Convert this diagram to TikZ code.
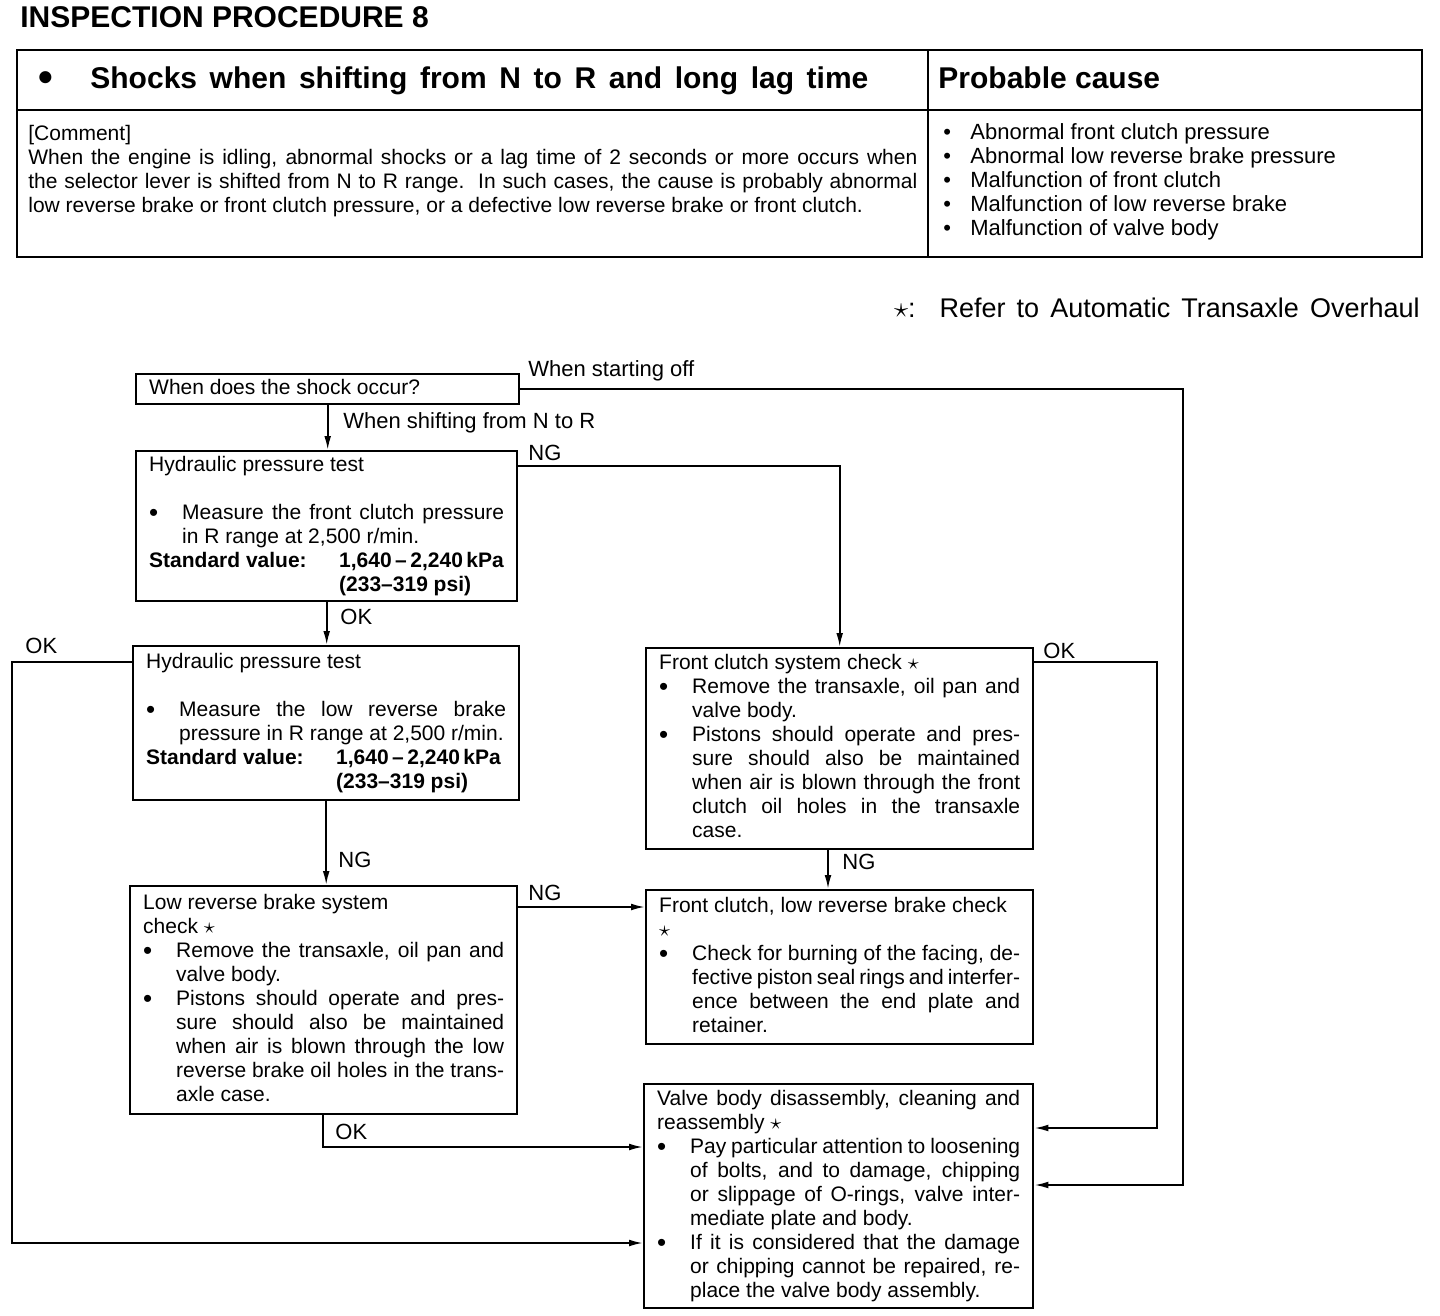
\documentclass[tikz,border=0pt]{standalone}
\usepackage{fontspec}
\setmainfont{Liberation Sans}
\usetikzlibrary{arrows.meta, positioning, calc}
\newcommand{\bodyfont}{\fontsize{10.5}{12}\selectfont\fontdimen4\font=1.8pt\relax}
\newcommand{\dotb}{\raisebox{-1pt}{\fontsize{13}{12}\selectfont\textbullet}}
\newcommand{\bitem}{\par\noindent\hangindent=16.5pt\hangafter=1\makebox[16.5pt][l]{\dotb}}
\newcommand{\stdval}{\par\noindent\makebox[95pt][l]{\bfseries Standard value:}{\bfseries 1,640\,--\,2,240\,kPa}\par\noindent\hspace*{95pt}{\bfseries (233--319 psi)}\strut}
\newcommand{\refstar}{\ensuremath{\star}}
\tolerance=10000
\hyphenpenalty=10000

\begin{document}
\begin{tikzpicture}[x=0.5pt, y=-0.5pt,
  box/.style={draw, line width=1.2pt, anchor=north west, inner xsep=6.5pt, inner ysep=0pt,
    align=justify, font=\bodyfont, execute at begin node=\strut},
  txt/.style={inner sep=0pt, anchor=north west, font=\bodyfont, execute at begin node=\strut},
  lbl/.style={inner sep=0pt, anchor=base west, font=\fontsize{11}{12}\selectfont},
  link/.style={line width=0.9pt, -{Latex[length=7pt,width=3.4pt]}},
  rule/.style={line width=1.2pt}]
  \useasboundingbox (0,0) rectangle (1440,1316);

  % Title
  \node[anchor=base west, inner sep=0pt, font=\fontsize{15}{18}\selectfont\bfseries] (title) at (20,28) {INSPECTION PROCEDURE 8};

  % Summary table
  \draw[rule] (17,50) rectangle (1422,257);
  \draw[rule] (17,110) -- (1422,110);
  \draw[rule] (928,50) -- (928,257);
  \node[anchor=base west, inner sep=0pt, font=\fontsize{15}{18}\selectfont\bfseries] (symptom) at (38,89)
    {\makebox[26pt][l]{\raisebox{-1.5pt}{\fontsize{21}{18}\selectfont\textbullet}}\makebox[389pt][s]{Shocks when shifting from N to R and long lag time}};
  \node[anchor=base west, inner sep=0pt, font=\fontsize{15}{18}\selectfont\bfseries] (causehead) at (938,89) {Probable cause};
  \node[txt, text width=444.5pt, align=justify] (comment) at (28,123)
    {\parfillskip=0pt [Comment]\hfill\break When the engine is idling, abnormal shocks or a lag time of 2 seconds or more occurs when\linebreak the selector lever is shifted from N to R range.\ \ In such cases, the cause is probably abnormal\linebreak low reverse brake or front clutch pressure, or a defective low reverse brake or front clutch.};
  \node[txt, align=left, font=\fontsize{11}{12}\selectfont] (causes) at (943,123)
    {\makebox[13.5pt][l]{\textbullet}Abnormal front clutch pressure\\
     \makebox[13.5pt][l]{\textbullet}Abnormal low reverse brake pressure\\
     \makebox[13.5pt][l]{\textbullet}Malfunction of front clutch\\
     \makebox[13.5pt][l]{\textbullet}Malfunction of low reverse brake\\
     \makebox[13.5pt][l]{\textbullet}Malfunction of valve body};

  \node[anchor=base east, inner sep=0pt, font=\fontsize{13.5}{16}\selectfont] (starnote) at (1420,317)
    {{\Large\refstar}:\hspace{12pt}\makebox[240pt][s]{Refer to Automatic Transaxle Overhaul}};

  % Flow boxes
  \node[box, text width=178.5pt, minimum height=15pt] (occur) at (135,373) {When does the shock occur?\strut};
  \node[box, text width=177.5pt, minimum height=75pt] (fcpress) at (135,450)
    {Hydraulic pressure test\par\vspace{12pt}\bitem Measure the front clutch pressure\linebreak in R range at 2,500 r/min.\stdval};
  \node[box, text width=180pt, minimum height=77pt] (lrpress) at (132,645)
    {Hydraulic pressure test\par\vspace{12pt}\bitem Measure the low reverse brake\linebreak pressure in R range at 2,500 r/min.\stdval};
  \node[box, text width=180.5pt, minimum height=100.5pt] (fccheck) at (645,647)
    {Front clutch system check \refstar\bitem Remove the transaxle, oil pan and\linebreak valve body.\bitem Pistons should operate and pres-\linebreak sure should also be maintained\linebreak when air is blown through the front\linebreak clutch oil holes in the transaxle\linebreak case.\strut\par};
  \node[box, text width=180.5pt, minimum height=114pt] (lrcheck) at (129,885)
    {Low reverse brake system\hfill\break check \refstar\bitem Remove the transaxle, oil pan and\linebreak valve body.\bitem Pistons should operate and pres-\linebreak sure should also be maintained\linebreak when air is blown through the low\linebreak reverse brake oil holes in the trans-\linebreak axle case.\strut\par};
  \node[box, text width=180.5pt, minimum height=77pt] (clutchbrake) at (645,889)
    {Front clutch, low reverse brake check\hfill\break\refstar\bitem Check for burning of the facing, de-\linebreak fective piston seal rings and interfer-\linebreak ence between the end plate and\linebreak retainer.\strut\par};
  \node[box, text width=181.5pt, minimum height=112pt] (valvebody) at (643,1083)
    {Valve body disassembly, cleaning and\linebreak reassembly \refstar\bitem Pay particular attention to loosening\linebreak of bolts, and to damage, chipping\linebreak or slippage of O-rings, valve inter-\linebreak mediate plate and body.\bitem If it is considered that the damage\linebreak or chipping cannot be repaired, re-\linebreak place the valve body assembly.\strut\par};

  % Connectors
  \draw[link] (occur.south) -- (occur.south |- fcpress.north);
  \node[lbl] (shiftlbl) at (343,428) {When shifting from N to R};
  \draw[link] (occur.east) -| (1183,1185) -- (valvebody.east |- 0,1185);
  \node[lbl] (startlbl) at (528,376) {When starting off};

  \draw[link] (fcpress.east |- 0,466) -| (fccheck.north);
  \node[lbl] (ng1) at (528,460) {NG};
  \draw[link] (fcpress.south) -- (fcpress.south |- lrpress.north);
  \node[lbl] (ok1) at (340,624) {OK};

  \draw[link] (lrpress.west |- 0,662) -| (12,1243) -- (valvebody.west |- 0,1243);
  \node[lbl] (ok2) at (25,653) {OK};
  \draw[link] (lrpress.south) -- (lrpress.south |- lrcheck.north);
  \node[lbl] (ng2) at (338,867) {NG};

  \draw[link] (fccheck.east |- 0,662) -| (1157,1128) -- (valvebody.east |- 0,1128);
  \node[lbl] (ok3) at (1043,658) {OK};
  \draw[link] (fccheck.south -| 828,0) -- (clutchbrake.north -| 828,0);
  \node[lbl] (ng3) at (842,869) {NG};

  \draw[link] (lrcheck.east |- 0,907) -- (clutchbrake.west |- 0,907);
  \node[lbl] (ng4) at (528,900) {NG};
  \draw[link] (lrcheck.south -| 323,0) |- (valvebody.west |- 0,1147);
  \node[lbl] (ok4) at (335,1139) {OK};
\end{tikzpicture}
\end{document}
